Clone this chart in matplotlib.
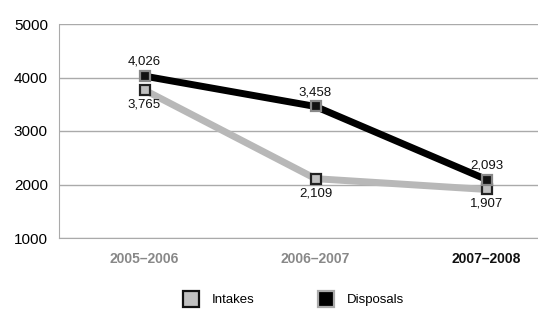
import matplotlib
matplotlib.use("Agg")
import matplotlib.pyplot as plt
from matplotlib.lines import Line2D

categories = ["2005–2006", "2006–2007", "2007–2008"]
intakes = [3765, 2109, 1907]
disposals = [4026, 3458, 2093]
yticks = [1000, 2000, 3000, 4000, 5000]

plt.rcParams['font.family'] = ['Liberation Sans', 'DejaVu Sans']

fig = plt.figure(figsize=(5.38, 3.33), dpi=100)
W, H = 538, 333
ax = fig.add_axes([59 / W, 1 - 238 / H, 513 / W, 214 / H])

x = list(range(len(categories)))
ax.plot(x, intakes, color="#b8b8b8", lw=5, marker="s", ms=7.5,
        mfc="#c0c0c0", mec="#222222", mew=1.6, zorder=3, solid_joinstyle="miter")
ax.plot(x, disposals, color="#000000", lw=5, marker="s", ms=7.5,
        mfc="#111111", mec="#888888", mew=1.6, zorder=4, solid_joinstyle="miter")

for xi, v in zip(x, disposals):
    ax.annotate(f"{v:,}", (xi, v), xytext=(0, 6), textcoords="offset points",
                ha="center", va="bottom", fontsize=9.5, color="#111111")
for xi, v in zip(x, intakes):
    ax.annotate(f"{v:,}", (xi, v), xytext=(0, -6), textcoords="offset points",
                ha="center", va="top", fontsize=9.5, color="#111111")

ax.set_xlim(-0.5, 2.5)
ax.set_ylim(1000, 5000)
ax.set_yticks(yticks)
ax.set_yticklabels([str(t) for t in yticks], fontsize=11)
ax.yaxis.grid(True, color="#aaaaaa", lw=1)
ax.set_axisbelow(True)
ax.tick_params(axis="both", length=0, pad=8)
ax.set_xticks(x)
ax.set_xticklabels(categories, fontsize=10, fontweight="bold")
for lbl, c in zip(ax.get_xticklabels(), ["#888888", "#888888", "#111111"]):
    lbl.set_color(c)
ax.tick_params(axis="x", pad=10)
for s in ["top", "right"]:
    ax.spines[s].set_visible(False)
ax.spines["left"].set_color("#aaaaaa")
ax.spines["bottom"].set_color("#aaaaaa")

handles = [
    Line2D([], [], ls="none", marker="s", ms=12, mfc="#c0c0c0", mec="#111111", mew=1.6),
    Line2D([], [], ls="none", marker="s", ms=12, mfc="#000000", mec="#aaaaaa", mew=1.6),
]
fig.legend(handles, ["Intakes", "Disposals"], loc="center", bbox_to_anchor=(291 / W, 1 - 300 / H),
           ncol=2, frameon=False, fontsize=9.5, columnspacing=4.4, handletextpad=0.6)

fig.savefig("out.png", dpi=100)
